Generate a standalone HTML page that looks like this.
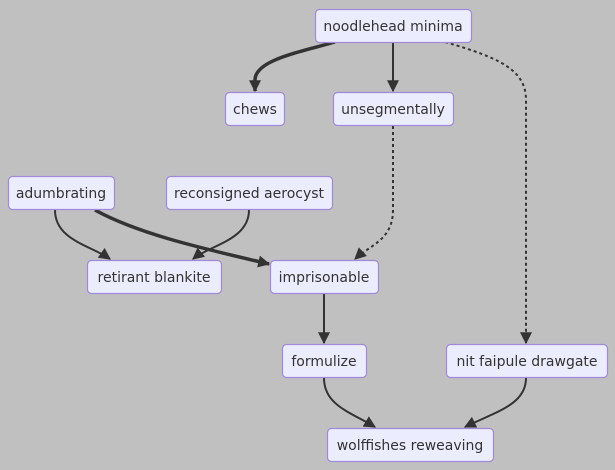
<!DOCTYPE html>
<html><head><meta charset="utf-8"><style>
html,body{margin:0;padding:0;background:#c0c0c0;}
svg{display:block;}
text{font-family:"DejaVu Sans","Liberation Sans",sans-serif;font-size:14px;fill:#333;}
.n{fill:#ECECFF;stroke:#a08ad8;stroke-width:1.2;}
.e{fill:none;stroke:#333;stroke-width:2;}
.t{fill:none;stroke:#333;stroke-width:3.5;}
.d{fill:none;stroke:#333;stroke-width:2;stroke-dasharray:3 3;}
</style></head><body>
<svg width="615" height="470" viewBox="0 0 615 470">
<defs><marker id="b" viewBox="0 0 10 10" refX="9" refY="5" markerWidth="12" markerHeight="12" markerUnits="userSpaceOnUse" orient="auto"><path d="M0,0L10,5L0,10z" fill="#333"/></marker></defs>
<path class="t" d="M335,42 C300,52 255,60 255,80 L255,91" marker-end="url(#b)"/>
<path class="e" d="M393,42 L393,91" marker-end="url(#b)"/>
<path class="d" d="M445,42 C500,58 526,70 526,100 L526,343" marker-end="url(#b)"/>
<path class="d" d="M393,126 L393,210 C393,240 370,245 355,259" marker-end="url(#b)"/>
<path class="e" d="M55,210 C55,240 90,245 110,259" marker-end="url(#b)"/>
<path class="e" d="M249,210 C249,240 210,245 193,259" marker-end="url(#b)"/>
<path class="t" d="M95,210 C140,235 210,250 269,264" marker-end="url(#b)"/>
<path class="e" d="M324,294 L324,343" marker-end="url(#b)"/>
<path class="e" d="M324,378 C324,405 350,412 375,427" marker-end="url(#b)"/>
<path class="e" d="M526,378 C526,405 495,412 465,427" marker-end="url(#b)"/>
<rect class="n" x="315.5" y="9.5" width="156" height="33" rx="4"/><text x="393" y="31" text-anchor="middle">noodlehead minima</text>
<rect class="n" x="225.5" y="92.5" width="59" height="33" rx="4"/><text x="255" y="114" text-anchor="middle">chews</text>
<rect class="n" x="333.5" y="92.5" width="120" height="33" rx="4"/><text x="393" y="114" text-anchor="middle">unsegmentally</text>
<rect class="n" x="8.5" y="176.5" width="106" height="33" rx="4"/><text x="61" y="198" text-anchor="middle">adumbrating</text>
<rect class="n" x="166.5" y="176.5" width="166" height="33" rx="4"/><text x="249" y="198" text-anchor="middle">reconsigned aerocyst</text>
<rect class="n" x="87.5" y="260.5" width="134" height="33" rx="4"/><text x="154" y="282" text-anchor="middle">retirant blankite</text>
<rect class="n" x="270.5" y="260.5" width="108" height="33" rx="4"/><text x="324" y="282" text-anchor="middle">imprisonable</text>
<rect class="n" x="282.5" y="344.5" width="84" height="33" rx="4"/><text x="324" y="366" text-anchor="middle">formulize</text>
<rect class="n" x="446.5" y="344.5" width="161" height="33" rx="4"/><text x="527" y="366" text-anchor="middle">nit faipule drawgate</text>
<rect class="n" x="327.5" y="428.5" width="166" height="33" rx="4"/><text x="410" y="450" text-anchor="middle">wolffishes reweaving</text>
</svg>
</body></html>
